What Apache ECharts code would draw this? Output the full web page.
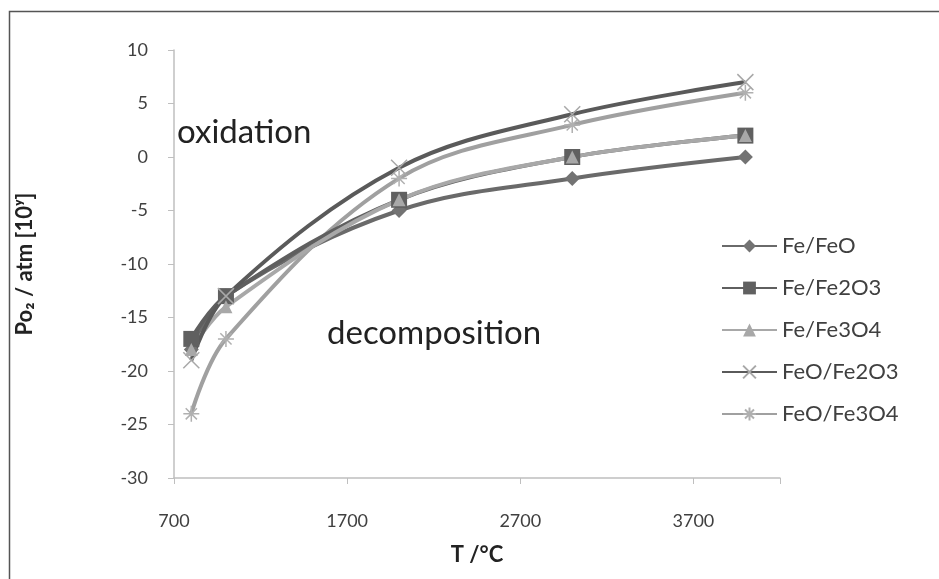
<!DOCTYPE html>
<html>
<head>
<meta charset="utf-8">
<script src="https://cdn.jsdelivr.net/npm/echarts@6/dist/echarts.min.js"></script>
<style>
  html, body { margin: 0; padding: 0; background: #fff; }
  #chart { width: 939px; height: 579px; }
</style>
</head>
<body>
<div id="chart"></div>
<script>
// temperatures (x) and Po2 exponents
const temps = [800, 1000, 2000, 3000, 4000]
const feFeO = [-18, -13, -5, -2, 0]
const feFe2O3 = [-17, -13, -4, 0, 2]
const feFe3O4 = [-18, -14, -4, 0, 2]
const feoFe2O3 = [-19, -13, -1, 4, 7]
const feoFe3O4 = [-24, -17, -2, 3, 6]

const seriesNames = ['Fe/FeO', 'Fe/Fe2O3', 'Fe/Fe3O4', 'FeO/Fe2O3', 'FeO/Fe3O4']
const yTicks = [-30, -25, -20, -15, -10, -5, 0, 5, 10]
const xTicks = [700, 1700, 2700, 3700]

const chart = echarts.init(document.getElementById('chart'))
const font = 'Lato, "Liberation Sans", sans-serif'

const pairs = ys => temps.map((t, i) => [t, ys[i]])

const crossPath = 'path://M0,0L10,10M10,0L0,10'
const starPath = 'path://M0,5L10,5M5,0L5,10M1.5,1.5L8.5,8.5M8.5,1.5L1.5,8.5'

function makeSeries(name, data, lineColor, symbol, size, itemStyle) {
  return {
    name: name,
    type: 'line',
    data: pairs(data),
    smooth: 0.35,
    symbol: symbol,
    symbolSize: size,
    showAllSymbol: true,
    lineStyle: { color: lineColor, width: 4 },
    itemStyle: itemStyle,
    emphasis: { disabled: true }
  }
}

const option = {
  backgroundColor: '#fff',
  animation: false,
  grid: { left: 174, right: 159, top: 50, bottom: 101 },
  legend: {
    orient: 'vertical',
    left: 716,
    top: 230,
    itemWidth: 55,
    itemHeight: 16,
    itemGap: 20,
    data: seriesNames,
    textStyle: { fontFamily: font, fontSize: 22, color: '#404040' }
  },
  xAxis: {
    type: 'value',
    min: 700,
    max: 4200,
    interval: 1000,
    name: 'T /°C',
    nameLocation: 'middle',
    nameGap: 66,
    nameTextStyle: { fontFamily: font, fontSize: 22, fontWeight: 'bold', color: '#222' },
    axisLine: { show: true, onZero: false, lineStyle: { color: '#bfbfbf', width: 1.5 } },
    axisTick: { show: true, length: 6, lineStyle: { color: '#bfbfbf' } },
    axisLabel: {
      fontFamily: font, fontSize: 18, color: '#404040', margin: 34,
      formatter: v => (xTicks.includes(v) ? String(v) : '')
    },
    splitLine: { show: false }
  },
  yAxis: {
    type: 'value',
    min: -30,
    max: 10,
    interval: 5,
    name: 'Po\u2082 / atm [10\u02b8]',
    nameLocation: 'middle',
    nameGap: 138,
    nameRotate: 90,
    nameTextStyle: { fontFamily: font, fontSize: 22, fontWeight: 'bold', color: '#222' },
    axisLine: { show: true, lineStyle: { color: '#bfbfbf', width: 1.5 } },
    axisTick: { show: true, length: 6, lineStyle: { color: '#bfbfbf' } },
    axisLabel: {
      fontFamily: font, fontSize: 18, color: '#404040', margin: 26,
      formatter: v => (yTicks.includes(v) ? String(v) : '')
    },
    splitLine: { show: false }
  },
  graphic: [
    {
      type: 'rect',
      shape: { x: 9.5, y: 11.5, width: 960, height: 600 },
      style: { fill: 'none', stroke: '#555', lineWidth: 1.5 },
      silent: true
    },
    {
      type: 'text',
      left: 177, top: 116,
      style: { text: 'oxidation', font: '33px ' + font, fill: '#222' }
    },
    {
      type: 'text',
      left: 327, top: 317,
      style: { text: 'decomposition', font: '33px ' + font, fill: '#222' }
    }
  ],
  series: [
    makeSeries(seriesNames[4], feoFe3O4, '#a0a0a0', starPath, 16,
      { color: 'transparent', borderColor: '#b0b0b0', borderWidth: 1.5 }),
    makeSeries(seriesNames[0], feFeO, '#6a6a6a', 'diamond', 15,
      { color: '#737373' }),
    makeSeries(seriesNames[1], feFe2O3, '#5f5f5f', 'rect', 16,
      { color: '#606060' }),
    makeSeries(seriesNames[2], feFe3O4, '#a8a8a8', 'triangle', 13,
      { color: '#a8a8a8' }),
    makeSeries(seriesNames[3], feoFe2O3, '#5a5a5a', crossPath, 16,
      { color: 'transparent', borderColor: '#a8a8a8', borderWidth: 1.5 })
  ]
}

chart.setOption(option)
window.addEventListener('resize', () => chart.resize())
</script>
</body>
</html>
